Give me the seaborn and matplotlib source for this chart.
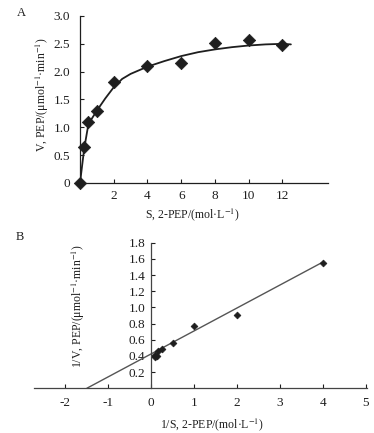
import matplotlib
matplotlib.use("Agg")
import matplotlib.pyplot as plt
import seaborn as sns
import pandas as pd

# ---- Panel A data: Michaelis-Menten ----
s_conc = [0, 0.25, 0.5, 1, 2, 4, 6, 8, 10, 12]
v_rate = [0, 0.64, 1.10, 1.29, 1.81, 2.10, 2.16, 2.51, 2.56, 2.48]
v_err = [0, 0.08, 0.04, 0.04, 0.05, 0.04, 0.04, 0.07, 0.05, 0.03]
fit_s = [0, 0.25, 0.5, 1, 1.5, 2, 2.5, 3, 4, 5, 6, 7, 8, 9, 10, 11, 12, 12.5]
fit_v = [0, 0.62, 1.06, 1.30, 1.52, 1.72, 1.87, 1.96, 2.09, 2.19, 2.28,
         2.35, 2.40, 2.44, 2.47, 2.49, 2.50, 2.49]
a_xticks = [2, 4, 6, 8, 10, 12]
a_yticks = [0, 0.5, 1.0, 1.5, 2.0, 2.5, 3.0]
a_yticklabels = ["0", "0.5", "1.0", "1.5", "2.0", "2.5", "3.0"]

# ---- Panel B data: Lineweaver-Burk ----
inv_s = [4, 2, 1, 0.5, 0.25, 0.167, 0.125, 0.1, 0.083]
inv_v = [1.55, 0.91, 0.77, 0.56, 0.48, 0.465, 0.40, 0.39, 0.41]
line_x = [-1.5, 4.0]
line_y = [0.0, 1.56]
b_xticks = [-2, -1, 0, 1, 2, 3, 4, 5]
b_xticklabels = ["-2", "-1", "0", "1", "2", "3", "4", "5"]
b_yticks = [0.2, 0.4, 0.6, 0.8, 1.0, 1.2, 1.4, 1.6, 1.8]
b_yticklabels = ["0.2", "0.4", "0.6", "0.8", "1.0", "1.2", "1.4", "1.6", "1.8"]

sns.set_theme(style="white")
plt.rcParams["font.family"] = ["Liberation Serif", "DejaVu Serif"]
plt.rcParams["mathtext.fontset"] = "stix"
plt.rcParams["axes.unicode_minus"] = False

ink = "#1e1e1e"
W, H = 374, 433
fig = plt.figure(figsize=(W / 100, H / 100), dpi=100)

# ---------- Panel A ----------
axA = fig.add_axes([80 / W, 1 - 183 / H, 248 / W, 167 / H])
dfA = pd.DataFrame({"S": s_conc, "V": v_rate})
dfFit = pd.DataFrame({"S": fit_s, "V": fit_v})
sns.lineplot(data=dfFit, x="S", y="V", ax=axA, color=ink, lw=1.3, sort=False)
axA.errorbar(s_conc, v_rate, yerr=v_err, fmt="none", ecolor=ink, elinewidth=0.8,
             capsize=0, clip_on=False, zorder=3)
sns.scatterplot(data=dfA, x="S", y="V", ax=axA, marker="D", s=40, color=ink,
                edgecolor=ink, linewidth=0.5, clip_on=False, zorder=4)
axA.set_xlim(0, 14.7)
axA.set_ylim(0, 3.0)
axA.set_xticks(a_xticks)
axA.set_xticklabels([str(t) for t in a_xticks])
axA.set_yticks(a_yticks)
axA.set_yticklabels(a_yticklabels)
for sp in ["top", "right"]:
    axA.spines[sp].set_visible(False)
for sp in ["left", "bottom"]:
    axA.spines[sp].set_color(ink)
    axA.spines[sp].set_linewidth(0.9)
axA.tick_params(axis="both", direction="in", length=3, width=0.8, colors=ink,
                labelsize=9.5, pad=7, left=True, bottom=True)
axA.tick_params(axis="x", pad=5)
axA.set_xlabel("S, 2-PEP/(mol·L$^{-1}$)", fontsize=8.5, color=ink)
axA.set_ylabel("V, PEP/(μmol$^{-1}$·min$^{-1}$)", fontsize=8.5, color=ink)
axA.xaxis.set_label_coords(0.454, -0.14)
axA.yaxis.set_label_coords(-0.115, 0.53)
fig.text(21 / W, 1 - 12.5 / H, "A", fontsize=9, ha="center", va="center", color=ink)

# ---------- Panel B ----------
axB = fig.add_axes([34 / W, 1 - 388.3 / H, 333 / W, 145.6 / H])
dfB = pd.DataFrame({"invS": inv_s, "invV": inv_v})
dfL = pd.DataFrame({"x": line_x, "y": line_y})
sns.lineplot(data=dfL, x="x", y="y", ax=axB, color="#555555", lw=1.0)
sns.scatterplot(data=dfB, x="invS", y="invV", ax=axB, marker="D", s=12, color=ink,
                edgecolor=ink, linewidth=0.5, zorder=4)
axB.set_xlim(-2.73, 5.03)
axB.set_ylim(0, 1.8)
axB.set_xticks(b_xticks)
axB.set_xticklabels(b_xticklabels)
axB.set_yticks(b_yticks)
axB.set_yticklabels(b_yticklabels)
for sp in ["top", "right"]:
    axB.spines[sp].set_visible(False)
axB.spines["left"].set_position(("data", 0))
for sp in ["left", "bottom"]:
    axB.spines[sp].set_color("#444444")
    axB.spines[sp].set_linewidth(0.9)
axB.tick_params(axis="both", direction="in", length=3, width=0.8, colors=ink,
                labelsize=9.5, pad=4, left=True, bottom=True)
axB.tick_params(axis="x", pad=6)
axB.set_xlabel("1/S, 2-PEP/(mol·L$^{-1}$)", fontsize=8.5, color=ink)
axB.set_ylabel("1/V, PEP/(μmol$^{-1}$·min$^{-1}$)", fontsize=8.5, color=ink)
axB.xaxis.set_label_coords(0.534, -0.195)
axB.yaxis.set_label_coords(0.16, 0.565)
fig.text(20 / W, 1 - 236.5 / H, "B", fontsize=9, ha="center", va="center", color=ink)

fig.savefig("out.png", dpi=100, facecolor="white")
